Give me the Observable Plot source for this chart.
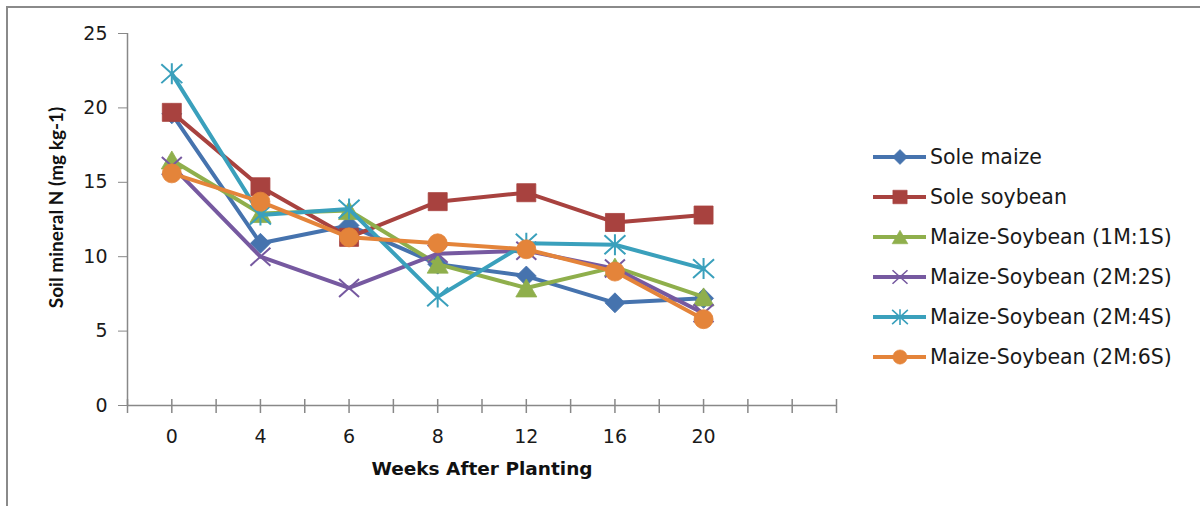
<!DOCTYPE html>
<html><head><meta charset="utf-8">
<script src="https://cdn.jsdelivr.net/npm/d3@7"></script>
<script src="https://cdn.jsdelivr.net/npm/@observablehq/plot@0.6"></script>
<style>
body{margin:0;background:#fff;}
#wrap{position:relative;width:1200px;height:506px;overflow:hidden;background:#fff;}
#chart{position:absolute;left:0;top:0;}
#frame{position:absolute;left:6px;top:6px;right:-10px;bottom:-10px;border-top:2px solid #8a8a8a;border-left:2px solid #8a8a8a;pointer-events:none;}
#legend{position:absolute;left:873px;top:0;font-family:"DejaVu Sans";font-size:20.5px;color:#1a1a1a;}
.item{position:absolute;left:0;height:24px;display:flex;align-items:center;white-space:nowrap;}
.item svg{margin-right:4px;overflow:visible;}
</style></head><body>
<div id="wrap"><div id="chart"></div><div id="legend"></div><div id="frame"></div></div>
<script>
// ---- data ----
const weeks = ["0", "4", "6", "8", "12", "16", "20"];
const slotCount = 8; // category slots on the axis (last one empty)
const yTicks = [0, 5, 10, 15, 20, 25];
const seriesNames = ["Sole maize", "Sole soybean", "Maize-Soybean (1M:1S)", "Maize-Soybean (2M:2S)", "Maize-Soybean (2M:4S)", "Maize-Soybean (2M:6S)"];
const soleMaize   = [19.6, 10.9, 12.1, 9.5, 8.7, 6.9, 7.2];
const soleSoybean = [19.7, 14.7, 11.3, 13.7, 14.3, 12.3, 12.8];
const ms1M1S      = [16.5, 12.9, 13.1, 9.5, 7.9, 9.3, 7.3];
const ms2M2S      = [16.1, 10.0, 7.9, 10.2, 10.4, 9.2, 6.2];
const ms2M4S      = [22.3, 12.8, 13.2, 7.3, 10.9, 10.8, 9.2];
const ms2M6S      = [15.6, 13.7, 11.3, 10.9, 10.5, 9.0, 5.8];
const seriesValues = [soleMaize, soleSoybean, ms1M1S, ms2M2S, ms2M4S, ms2M6S];
const seriesColors = ["#4673AE", "#A8423F", "#8FAF4C", "#7659A0", "#3AA0BC", "#E4843A"];
const seriesShapes = ["diamond", "square", "triangle", "cross", "star", "circle"];

// ---- marker shapes ----
const shapes = {
  diamond: (p, r) => { p.moveTo(0, -r); p.lineTo(r, 0); p.lineTo(0, r); p.lineTo(-r, 0); p.closePath(); },
  square: (p, r) => { p.rect(-r, -r * 0.95, 2 * r, 1.9 * r); },
  triangle: (p, r) => { p.moveTo(0, -r * 0.9); p.lineTo(r * 1.05, r * 0.9); p.lineTo(-r * 1.05, r * 0.9); p.closePath(); },
  cross: (p, r) => { p.moveTo(-r, -r * 0.9); p.lineTo(r, r * 0.9); p.moveTo(-r, r * 0.9); p.lineTo(r, -r * 0.9); },
  star: (p, r) => { p.moveTo(-r, -r * 0.9); p.lineTo(r, r * 0.9); p.moveTo(-r, r * 0.9); p.lineTo(r, -r * 0.9); p.moveTo(0, -r); p.lineTo(0, r); },
  circle: (p, r) => { p.moveTo(r, 0); p.arc(0, 0, r, 0, 2 * Math.PI); }
};
const shapeR = {diamond: 10, square: 9.5, triangle: 10, cross: 10, star: 10.5, circle: 9.5};
const hollow = {cross: true, star: true};
const symbolOf = (name) => ({draw(ctx, size) { shapes[name](ctx, Math.sqrt(size / Math.PI)); }});

function markerOptions(s) {
  const name = seriesShapes[s], c = seriesColors[s];
  return hollow[name]
    ? {symbol: symbolOf(name), r: shapeR[name], fill: "none", stroke: c, strokeWidth: 2}
    : {symbol: symbolOf(name), r: shapeR[name], fill: c, stroke: c, strokeWidth: 0.8};
}

// ---- table ----
const rows = seriesNames.flatMap((name, s) => seriesValues[s].map((v, i) => ({name, s, i, v})));
const halfTicks = d3.range(0, slotCount * 2 + 1).map(k => k / 2 - 0.5);

const axisColor = "#888";
const marks = [
  Plot.ruleY([0], {stroke: axisColor, strokeWidth: 1.5}),
  Plot.ruleX([-0.5], {stroke: axisColor, strokeWidth: 1.5}),
  Plot.ruleX(halfTicks, {x: d => d, y1: 0, y2: 0, insetTop: 8, insetBottom: 6, stroke: axisColor, strokeWidth: 1.5}),
  Plot.axisY({ticks: yTicks, tickSize: 9, tickPadding: 11, stroke: axisColor, fill: "#1a1a1a", fontSize: 19, fontFamily: "DejaVu Sans", label: null}),
  Plot.text(weeks, {x: (d, i) => i, y: 0, dy: 31, text: d => d, fontSize: 19, fontFamily: "DejaVu Sans", fill: "#1a1a1a", lineAnchor: "middle"}),
  Plot.text(["Weeks After Planting"], {frameAnchor: "bottom", dy: 64, fontSize: 18.5, fontWeight: "bold", fontFamily: "DejaVu Sans", fill: "#111", lineAnchor: "middle"}),
  Plot.text(["Soil mineral N (mg kg-1)"], {frameAnchor: "left", textAnchor: "middle", dx: -71, dy: -12, rotate: -90, fontSize: 19, fontWeight: "bold", fontFamily: "Lato", fill: "#111", lineAnchor: "middle"})
];
seriesNames.forEach((name, s) => {
  const data = rows.filter(r => r.s === s);
  marks.push(Plot.line(data, {x: "i", y: "v", stroke: seriesColors[s], strokeWidth: 4, strokeLinejoin: "round"}));
  marks.push(Plot.dot(data, {x: "i", y: "v", ...markerOptions(s)}));
});

const chart = Plot.plot({
  width: 1200,
  height: 506,
  marginLeft: 127,
  marginRight: 364,
  marginTop: 33,
  marginBottom: 101,
  x: {type: "linear", domain: [-0.5, slotCount - 0.5], axis: null},
  y: {domain: [0, 25]},
  style: {background: "transparent", overflow: "visible"},
  marks
});
document.getElementById("chart").appendChild(chart);

// ---- legend ----
const legend = document.getElementById("legend");
seriesNames.forEach((name, s) => {
  const item = document.createElement("div");
  item.className = "item";
  item.style.top = (145 + s * 40) + "px";
  const shape = seriesShapes[s], c = seriesColors[s];
  const p = d3.path();
  shapes[shape](p, shapeR[shape] * 0.75);
  const markerAttr = hollow[shape]
    ? `fill="none" stroke="${c}" stroke-width="1.6"`
    : `fill="${c}" stroke="${c}" stroke-width="0.6"`;
  item.innerHTML = `<svg width="53" height="24"><line x1="0" x2="53" y1="12" y2="12" stroke="${c}" stroke-width="4"/><path transform="translate(27,12)" d="${p.toString()}" ${markerAttr}/></svg><span>${name}</span>`;
  legend.appendChild(item);
});
</script>
</body></html>
